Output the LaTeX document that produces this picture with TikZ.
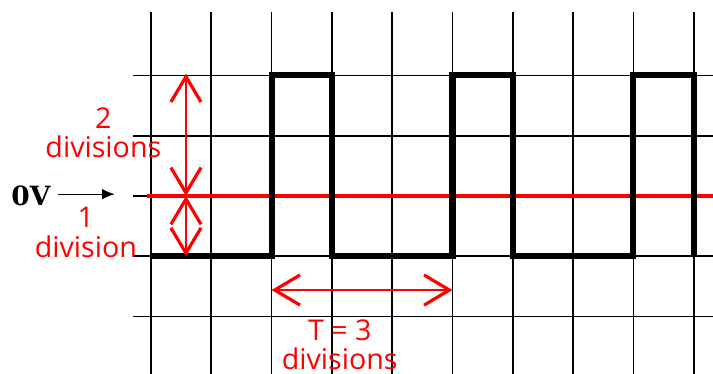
\documentclass[tikz,border=0pt]{standalone}
\usepackage{fontspec}
\usetikzlibrary{arrows.meta, positioning}
\newfontfamily\handfont{Open Sans}
\newfontfamily\voltfont{DejaVu Serif}
\definecolor{markred}{HTML}{FF0000}

\begin{document}
\begin{tikzpicture}[
    gridline/.style={draw, black, line width=0.8pt},
    wave/.style={draw, black, line width=2.9pt, line join=miter},
    zeroline/.style={draw, markred, line width=1.5pt},
    dimarr/.style={{Straight Barb[length=0.42cm, width=0.5cm, line width=1.5pt]}-{Straight Barb[length=0.42cm, width=0.5cm, line width=1.5pt]}, markred, line width=1.2pt},
    lbl/.style={text=markred, font=\handfont\fontsize{13.5}{14}\selectfont, align=center, inner sep=0pt},
    volt/.style={font=\voltfont\fontsize{12.5}{15}\selectfont\bfseries, inner sep=0pt},
    arr/.style={-{Latex[length=6pt, width=5pt]}, black, line width=0.6pt},
]
\useasboundingbox (-2.504,-2.952) rectangle (9.32,3.25);

% Grid
\foreach \x in {0,...,9}
    \draw[gridline] (\x, 3.05) -- (\x, -2.952);
\foreach \y in {-2,...,2}
    \draw[gridline] (-0.30, \y) -- (9.32, \y);

% 0 V level
\draw[zeroline] (-0.07, 0) -- (9.32, 0);

% Square wave
\draw[wave] (0,-1) -- (2,-1) -- (2,2) -- (3,2) -- (3,-1) -- (5,-1) -- (5,2)
    -- (6,2) -- (6,-1) -- (8,-1) -- (8,2) -- (9,2) -- (9,-1);

% Amplitude arrows
\coordinate (amptop) at (0.58, 2.03);
\coordinate (ampzero) at (0.58, 0);
\coordinate (ampbot) at (0.58, -1);
\draw[dimarr] (amptop) -- (ampzero);
\draw[dimarr] (ampzero) -- (ampbot);

% Period arrow
\coordinate (perleft) at (2, -1.56);
\coordinate (perright) at (5, -1.56);
\draw[dimarr] (perleft) -- (perright);

% Labels
\node[lbl] (twodiv) at (-0.79, 1.05) {2\\divisions};
\node[lbl] (onediv) at (-1.08, -0.61) {1\\division};
\node[lbl] (period) at (3.13, -2.47) {T = 3\\divisions};

% 0V marker
\node[volt] (zerov) at (-1.99, 0.01) {0V};
\coordinate (zerotip) at (-0.60, 0.03);
\draw[arr] (zerov.east |- zerotip) ++(0.12,0) -- (zerotip);

\end{tikzpicture}
\end{document}
